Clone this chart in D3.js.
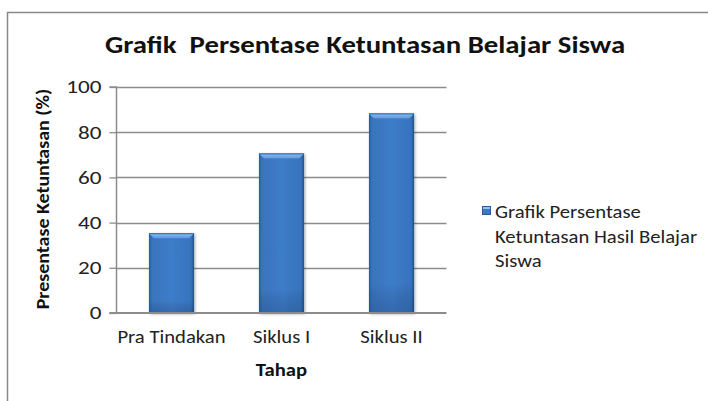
<!DOCTYPE html>
<html><head><meta charset="utf-8">
<script src="https://cdn.jsdelivr.net/npm/d3@7/dist/d3.min.js"></script>
<style>body{margin:0;background:#fff}svg{display:block}</style>
</head><body>
<svg id="chart" width="708" height="401"></svg>
<script>
const categories = ["Pra Tindakan", "Siklus I", "Siklus II"];
const values = [35.3, 70.6, 88.3];
const yTicks = [0, 20, 40, 60, 80, 100];
const titleText = "Grafik  Persentase Ketuntasan Belajar Siswa";
const yTitle = "Presentase Ketuntasan (%)";
const xTitle = "Tahap";
const legendLines = ["Grafik Persentase", "Ketuntasan Hasil Belajar", "Siswa"];

(function () {
const svg = d3.select("#chart");
const font = "Calibri, Carlito, 'Open Sans', sans-serif";
const pL = 116.5, pR = 446.5, pT = 87, pB = 313;
const SX = 1.18;

function stretch(sel, s) {
  sel.each(function () {
    const len = this.getComputedTextLength();
    d3.select(this).attr("textLength", len * s).attr("lengthAdjust", "spacingAndGlyphs");
  });
}

// frame
svg.append("path").attr("d", "M7.5,401 L7.5,12.5 L708,12.5")
  .attr("fill", "none").attr("stroke", "#888").attr("stroke-width", 1.5);

const x = d3.scaleBand().domain(categories).range([pL, pR])
  .paddingInner(0.59).paddingOuter(0.295);
const y = d3.scaleLinear().domain([0, 100]).range([pB, pT]);

const defs = svg.append("defs");
const g1 = defs.append("linearGradient").attr("id", "barH").attr("x1", 0).attr("x2", 1).attr("y1", 0).attr("y2", 0);
[[0, "#2a5c9e"], [0.07, "#3a74bd"], [0.5, "#3d7cc9"], [0.93, "#3873bc"], [1, "#24528e"]]
  .forEach(s => g1.append("stop").attr("offset", s[0]).attr("stop-color", s[1]));
const g2 = defs.append("linearGradient").attr("id", "barV").attr("x1", 0).attr("x2", 0).attr("y1", 0).attr("y2", 1);
[[0, "#000", 0], [0.85, "#000", 0], [1, "#0a2850", 0.2]]
  .forEach(s => g2.append("stop").attr("offset", s[0]).attr("stop-color", s[1]).attr("stop-opacity", s[2]));
const g3 = defs.append("linearGradient").attr("id", "bevel").attr("x1", 0).attr("x2", 0).attr("y1", 0).attr("y2", 1);
[[0, "#8ec0f2"], [1, "#5a98dc"]].forEach(s => g3.append("stop").attr("offset", s[0]).attr("stop-color", s[1]));
const f = defs.append("filter").attr("id", "shadow").attr("x", "-20%").attr("y", "-10%").attr("width", "140%").attr("height", "120%");
f.append("feGaussianBlur").attr("in", "SourceAlpha").attr("stdDeviation", 1.5).attr("result", "b");
f.append("feOffset").attr("in", "b").attr("dx", 0.5).attr("dy", 0.5).attr("result", "o");
f.append("feComponentTransfer").attr("in", "o").attr("result", "o2").append("feFuncA").attr("type", "linear").attr("slope", 0.35);
const fm = f.append("feMerge"); fm.append("feMergeNode").attr("in", "o2"); fm.append("feMergeNode").attr("in", "SourceGraphic");

// gridlines
svg.append("g").selectAll("line").data(yTicks.filter(d => d > 0)).join("line")
  .attr("x1", pL).attr("x2", pR).attr("y1", d => Math.round(y(d)) + 0.5).attr("y2", d => Math.round(y(d)) + 0.5)
  .attr("stroke", "#8c8c8c").attr("stroke-width", 1.3);

// bars
const bars = svg.append("g").selectAll("g").data(categories).join("g");
bars.append("rect")
  .attr("x", d => x(d)).attr("width", x.bandwidth())
  .attr("y", (d, i) => y(values[i])).attr("height", (d, i) => pB - y(values[i]))
  .attr("fill", "url(#barH)").attr("filter", "url(#shadow)");
bars.append("rect")
  .attr("x", d => x(d)).attr("width", x.bandwidth())
  .attr("y", (d, i) => y(values[i])).attr("height", (d, i) => pB - y(values[i]))
  .attr("fill", "url(#barV)");
bars.append("path")
  .attr("d", (d, i) => {
    const x0 = x(d), x1 = x(d) + x.bandwidth(), t = y(values[i]), b = 5;
    return `M${x0},${t} L${x1},${t} L${x1 - b},${t + b} L${x0 + b},${t + b} Z`;
  })
  .attr("fill", "url(#bevel)");
bars.append("path")
  .attr("d", (d, i) => {
    const x0 = x(d), x1 = x(d) + x.bandwidth(), t = y(values[i]);
    return `M${x0},${t + 0.5} L${x1},${t + 0.5}`;
  })
  .attr("stroke", "#2e64a8").attr("stroke-width", 1);

// y axis
const yAxis = svg.append("g").attr("transform", `translate(${pL},0)`)
  .call(d3.axisLeft(y).tickValues(yTicks).tickSize(7).tickPadding(8).tickFormat(d3.format("d")));
yAxis.select(".domain").attr("stroke", "#8c8c8c").attr("stroke-width", 1.5).attr("d", `M-7,${pT}H0V${pB}H-7`);
yAxis.selectAll(".tick line").attr("stroke", "#8c8c8c").attr("stroke-width", 1.3);
yAxis.selectAll(".tick text").attr("font-family", font).attr("font-size", 18.5).attr("fill", "#222").call(stretch, 1.25);

// x axis
const xAxis = svg.append("g").attr("transform", `translate(0,${pB})`)
  .call(d3.axisBottom(x).tickSize(0).tickPadding(18));
xAxis.select(".domain").attr("stroke", "#8c8c8c").attr("stroke-width", 2).attr("d", `M${pL - 7},0H${pR}`);
xAxis.selectAll(".tick text").attr("font-family", font).attr("font-size", 17.5).attr("fill", "#222").call(stretch, SX);

// titles
svg.append("text").attr("x", 365).attr("y", 53).attr("text-anchor", "middle")
  .attr("font-family", font).attr("font-weight", "bold").attr("font-size", 25).attr("fill", "#111")
  .attr("xml:space", "preserve").text(titleText).call(stretch, 1.15);
svg.append("text").attr("x", (pL + pR) / 2).attr("y", 376).attr("text-anchor", "middle")
  .attr("font-family", font).attr("font-weight", "bold").attr("font-size", 17.5).attr("fill", "#111").text(xTitle).call(stretch, SX);
svg.append("text").attr("transform", `translate(48.5,${(pT + pB) / 2 - 1}) rotate(-90)`).attr("text-anchor", "middle")
  .attr("font-family", font).attr("font-weight", "bold").attr("font-size", 18.5).attr("fill", "#111").text(yTitle)
  .call(stretch, 1.08);

// legend
const lg = svg.append("g");
lg.append("rect").attr("x", 482.5).attr("y", 206.5).attr("width", 8).attr("height", 8)
  .attr("fill", "#3b78c4").attr("stroke", "#2a5a9a").attr("stroke-width", 1);
lg.append("rect").attr("x", 483).attr("y", 207).attr("width", 7).attr("height", 2).attr("fill", "#8ec0f2");
lg.selectAll("text").data(legendLines).join("text")
  .attr("x", 495).attr("y", (d, i) => 218 + i * 24.5)
  .attr("font-family", font).attr("font-size", 17.5).attr("fill", "#222").text(d => d).call(stretch, SX);
})();
</script>
</body></html>
